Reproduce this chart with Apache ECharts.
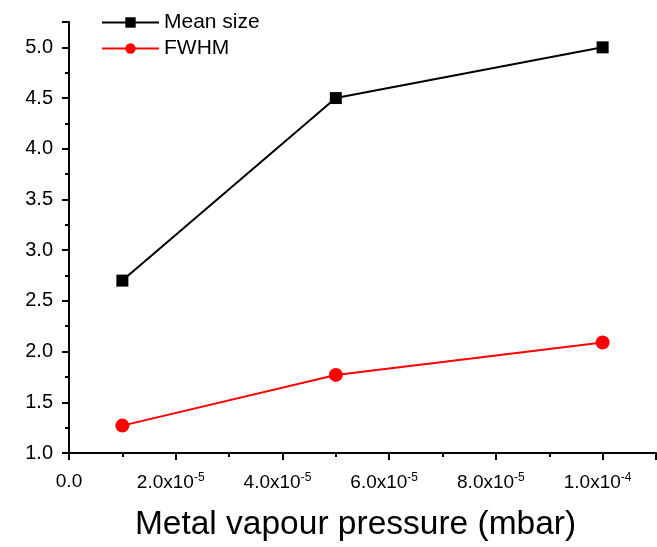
<!DOCTYPE html>
<html><head><meta charset="utf-8">
<script src="https://cdn.jsdelivr.net/npm/echarts@6/dist/echarts.min.js"></script>
<style>html,body{margin:0;padding:0;background:#fff}#c{width:657px;height:547px}</style>
</head><body><div id="c"></div>
<script>
const pressures = [1e-5, 5e-5, 1e-4];
const meanSize = [2.7, 4.5, 5.0];
const fwhm = [1.27, 1.77, 2.09];
const seriesNames = ['Mean size', 'FWHM'];
const xTitle = 'Metal vapour pressure (mbar)';

const chart = echarts.init(document.getElementById('c'));
const font = 'Liberation Sans, Arial, sans-serif';
function xFmt(v) {
  if (Math.abs(v) < 1e-12) return '{a|0.0}';
  const e = Math.floor(Math.log10(Math.abs(v)) + 1e-9);
  const m = v / Math.pow(10, e);
  return '{a|' + m.toFixed(1) + 'x10}{b|' + e + '}';
}
chart.setOption({
  animation: false,
  grid: {left: 69, right: 1, top: 22, bottom: 94, containLabel: false},
  legend: {
    orient: 'vertical', left: 96, top: 7, itemWidth: 57, itemHeight: 13, itemGap: 5,
    textStyle: {fontFamily: font, fontSize: 21, color: '#000'},
    data: seriesNames
  },
  xAxis: {
    type: 'value', min: 0, max: 1.1e-4, interval: 2e-5,
    name: xTitle, nameLocation: 'middle', nameGap: 55,
    nameTextStyle: {fontFamily: font, fontSize: 33.5, color: '#000', padding: [0, 14, 0, 0]},
    axisLine: {lineStyle: {color: '#000', width: 2}},
    axisTick: {inside: false, length: 7, lineStyle: {color: '#000', width: 2}},
    minorTick: {show: true, splitNumber: 2, length: 4, lineStyle: {color: '#000', width: 2}},
    splitLine: {show: false},
    axisLabel: {
      showMaxLabel: false, margin: 19, color: '#000', fontFamily: font,
      formatter: xFmt,
      rich: {
        a: {fontSize: 19, fontFamily: font, color: '#000'},
        b: {fontSize: 12, fontFamily: font, color: '#000', padding: [0, 10, 10, 0]}
      }
    }
  },
  yAxis: {
    type: 'value', min: 1, max: 5.25, interval: 0.5,
    axisLine: {show: true, lineStyle: {color: '#000', width: 2}},
    axisTick: {show: true, inside: false, length: 7, lineStyle: {color: '#000', width: 2}},
    minorTick: {show: true, splitNumber: 2, length: 4, lineStyle: {color: '#000', width: 2}},
    splitLine: {show: false},
    axisLabel: {
      showMaxLabel: false, margin: 16, color: '#000', fontFamily: font, fontSize: 20,
      formatter: v => v.toFixed(1)
    }
  },
  series: [
    {
      name: seriesNames[0], type: 'line', symbol: 'rect', symbolSize: 12,
      data: pressures.map((p, i) => [p, meanSize[i]]),
      lineStyle: {color: '#000', width: 2}, itemStyle: {color: '#000'}
    },
    {
      name: seriesNames[1], type: 'line', symbol: 'circle', symbolSize: 14,
      data: pressures.map((p, i) => [p, fwhm[i]]),
      lineStyle: {color: '#ff0000', width: 2}, itemStyle: {color: '#ff0000'}
    }
  ]
});
</script></body></html>
